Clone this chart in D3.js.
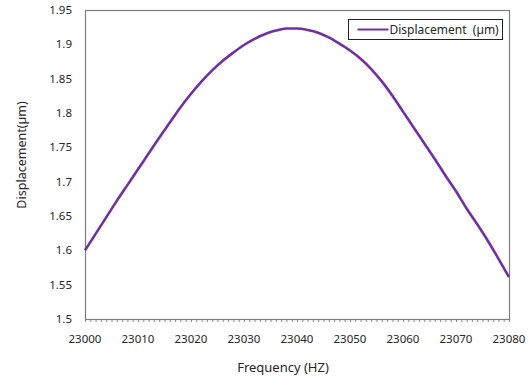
<!DOCTYPE html>
<html>
<head>
<meta charset="utf-8">
<script src="https://cdn.jsdelivr.net/npm/d3@7"></script>
<style>
  body { margin: 0; background: #fff; }
  text { font-family: "Noto Sans", "Open Sans", sans-serif; fill: #262626; }
</style>
</head>
<body>
<div id="chart"></div>
<script>
// data
const freq = [23000, 23002, 23004, 23006, 23008, 23010, 23012, 23014, 23016, 23018,
              23020, 23022, 23024, 23026, 23028, 23030, 23032, 23034, 23036, 23038,
              23040, 23042, 23044, 23046, 23048, 23050, 23052, 23054, 23056, 23058,
              23060, 23062, 23064, 23066, 23068, 23070, 23072, 23074, 23076, 23078, 23080]
const displacement = [1.600, 1.624, 1.648, 1.672, 1.695, 1.718, 1.741, 1.764, 1.786, 1.808,
                      1.828, 1.846, 1.862, 1.876, 1.888, 1.899, 1.908, 1.915, 1.920, 1.923,
                      1.923, 1.921, 1.917, 1.910, 1.901, 1.891, 1.879, 1.864, 1.846, 1.825,
                      1.802, 1.779, 1.756, 1.733, 1.709, 1.686, 1.661, 1.638, 1.614, 1.588, 1.561]
const xTicks = [23000, 23010, 23020, 23030, 23040, 23050, 23060, 23070, 23080]
const yTicks = [1.5, 1.55, 1.6, 1.65, 1.7, 1.75, 1.8, 1.85, 1.9, 1.95]
const seriesName = "Displacement  (\u00b5m)"

const width = 529, height = 379
const margin = {top: 10, right: 20, bottom: 60, left: 85}

const svg = d3.select("#chart").append("svg")
	.attr("width", width)
	.attr("height", height)

const x = d3.scaleLinear().domain([23000, 23080]).range([margin.left, width - margin.right])
const y = d3.scaleLinear().domain([1.5, 1.95]).range([height - margin.bottom, margin.top])

// minor ticks on x axis
svg.append("g")
	.attr("transform", `translate(0,${height - margin.bottom})`)
	.call(d3.axisBottom(x).ticks(80).tickSize(3).tickFormat(""))
	.call(g => g.select(".domain").remove())
	.selectAll("line").attr("stroke", "#8a8a8a")

// x tick labels
svg.append("g")
	.selectAll("text")
	.data(xTicks)
	.enter()
	.append("text")
	.attr("x", d => x(d))
	.attr("y", height - margin.bottom + 24)
	.attr("text-anchor", "middle")
	.style("font-size", "11.5px")
	.text(d => d)

// y tick labels
svg.append("g")
	.selectAll("text")
	.data(yTicks)
	.enter()
	.append("text")
	.attr("x", 72)
	.attr("y", d => y(d))
	.attr("dy", ".35em")
	.attr("text-anchor", "end")
	.style("font-size", "11.5px")
	.text(d => d)

// plot frame
svg.append("rect")
	.attr("x", x(23000) + 0.5)
	.attr("y", y(1.95) + 0.5)
	.attr("width", x(23080) - x(23000))
	.attr("height", y(1.5) - y(1.95))
	.attr("fill", "none")
	.attr("stroke", "#7f7f7f")
	.attr("stroke-width", 1.2)

// the curve
const line = d3.line()
	.x((d, i) => x(freq[i]))
	.y(d => y(d))
	.curve(d3.curveMonotoneX)

svg.append("path")
	.datum(displacement)
	.attr("d", line)
	.attr("fill", "none")
	.attr("stroke", "#7030a0")
	.attr("stroke-width", 2.6)

// legend
const legend = svg.append("g").attr("transform", "translate(348.5,19.5)")
legend.append("rect")
	.attr("width", 154)
	.attr("height", 20)
	.attr("fill", "#fff")
	.attr("stroke", "#222")
legend.append("line")
	.attr("x1", 9).attr("x2", 40)
	.attr("y1", 10).attr("y2", 10)
	.attr("stroke", "#7030a0")
	.attr("stroke-width", 2)
legend.append("text")
	.attr("x", 41)
	.attr("y", 10)
	.attr("dy", ".35em")
	.style("font-size", "12px")
	.style("white-space", "pre")
	.text(seriesName)

// axis titles
svg.append("text")
	.attr("x", 283)
	.attr("y", 367)
	.attr("dy", ".35em")
	.attr("text-anchor", "middle")
	.style("font-size", "13px")
	.text("Frequency (HZ)")

svg.append("text")
	.attr("transform", "translate(22,155) rotate(-90)")
	.attr("dy", ".35em")
	.attr("text-anchor", "middle")
	.style("font-size", "12.5px")
	.text("Displacement(\u00b5m)")
</script>
</body>
</html>
